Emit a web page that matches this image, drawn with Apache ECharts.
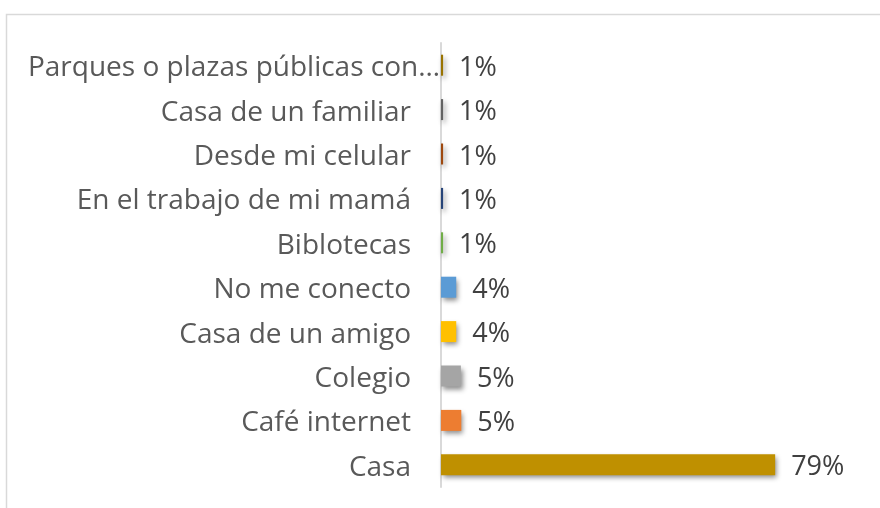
<!DOCTYPE html>
<html>
<head>
<meta charset="utf-8">
<script src="https://cdn.jsdelivr.net/npm/echarts@6/dist/echarts.min.js"></script>
<style>
  html, body { margin: 0; padding: 0; background: #fff; }
  #chart { width: 880px; height: 508px; }
</style>
</head>
<body>
<div id="chart"></div>
<script>
// categorias de abajo hacia arriba
const categories = [
  "Casa",
  "Café internet",
  "Colegio",
  "Casa de un amigo",
  "No me conecto",
  "Biblotecas",
  "En el trabajo de mi mamá",
  "Desde mi celular",
  "Casa de un familiar",
  "Parques o plazas públicas con…"
];
const values = [79, 4.8, 4.7, 3.6, 3.6, 0.5, 0.5, 0.5, 0.5, 0.5];
const valueLabels = ["79%", "5%", "5%", "4%", "4%", "1%", "1%", "1%", "1%", "1%"];
const barColors = [
  "#BF9000", "#ED7D31", "#A5A5A5", "#FFC000", "#5B9BD5",
  "#70AD47", "#264478", "#9E480E", "#636363", "#997300"
];

const chart = echarts.init(document.getElementById("chart"));
const font = "'Open Sans', 'Noto Sans', sans-serif";

const option = {
  animation: false,
  graphic: [{
    type: "rect",
    shape: { x: 6.5, y: 14.5, width: 900, height: 600 },
    style: { fill: "none", stroke: "#d9d9d9", lineWidth: 1.5 },
    silent: true
  }],
  grid: { left: 441, right: 16, top: 43, bottom: 21 },
  xAxis: {
    type: "value",
    min: 0,
    max: 100,
    show: false
  },
  yAxis: {
    type: "category",
    data: categories,
    axisLine: { lineStyle: { color: "#d9d9d9", width: 2 } },
    axisTick: { length: 7, lineStyle: { color: "#d9d9d9", width: 2 } },
    axisLabel: {
      color: "#595959",
      fontFamily: font,
      fontSize: 28,
      margin: 30,
      // la etiqueta larga se sale hasta el eje, como en el original
      formatter: (v, i) => i === categories.length - 1 ? "{long|" + v + "}" : "{n|" + v + "}",
      rich: {
        n: {
          color: "#595959",
          fontFamily: font,
          fontSize: 28,
          padding: [6, 0, 0, 0]
        },
        long: {
          color: "#595959",
          fontFamily: font,
          fontSize: 28,
          padding: [6, -29, 0, 0]
        }
      }
    }
  },
  series: [{
    type: "bar",
    barWidth: 21,
    data: values.map((v, i) => ({
      value: v,
      itemStyle: { color: barColors[i] }
    })),
    itemStyle: {
      shadowColor: "rgba(0,0,0,0.45)",
      shadowBlur: 5,
      shadowOffsetX: 2,
      shadowOffsetY: 3
    },
    label: {
      show: true,
      position: "right",
      distance: 16,
      offset: [0, 3],
      color: "#404040",
      fontFamily: font,
      fontSize: 27,
      formatter: (p) => valueLabels[p.dataIndex]
    }
  }]
};
chart.setOption(option);
</script>
</body>
</html>
